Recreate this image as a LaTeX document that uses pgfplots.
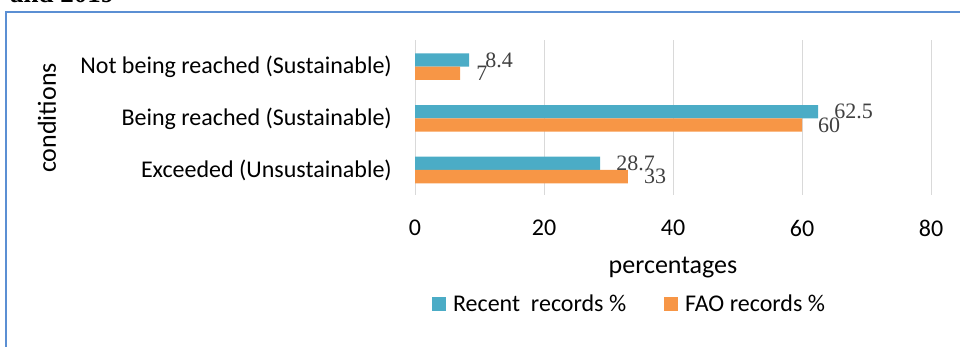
\documentclass[border=0pt]{standalone}
\usepackage{pgfplots}
\pgfplotsset{compat=1.18}
\usepackage{fontspec}
\setmainfont{Carlito}
\newfontfamily\tnr{Liberation Serif}
\definecolor{barblue}{HTML}{4BACC6}
\definecolor{barorange}{HTML}{F79646}
\definecolor{gridgray}{HTML}{D9D9D9}
\definecolor{boxblue}{HTML}{5B8FD3}
\definecolor{labgray}{HTML}{404040}
\begin{document}
\begin{tikzpicture}
\useasboundingbox (0,0) rectangle (960bp,347bp);
\begin{axis}[
  at={(415bp,152bp)}, anchor=south west,
  scale only axis, width=516bp, height=155bp,
  xbar, bar width=13.3bp,
  xmin=0, xmax=80, ymin=-0.484, ymax=2.516,
  xtick={0,20,40,60,80},
  ytick={0,1,2},
  yticklabels={Exceeded (Unsustainable), Being reached (Sustainable), Not being reached (Sustainable)},
  xmajorgrids, major grid style={gridgray, line width=1bp},
  axis line style={draw=none},
  major tick length=0pt,
  tick style={draw=none},
  /pgf/number format/assume math mode=true,
  tick label style={font=\fontsize{24bp}{28bp}\selectfont},
  xticklabel style={anchor=north, inner sep=0pt, yshift=-25bp},
  yticklabel style={anchor=east, inner sep=0pt, xshift=-23bp},
  nodes near coords,
  every node near coord/.append style={font=\tnr\fontsize{22bp}{26bp}\selectfont, text=labgray, inner sep=0pt, xshift=16bp, anchor=west},
  legend columns=2,
  legend cell align=left,
  legend image code/.code={\fill[#1] (0bp,-7bp) rectangle (14bp,7bp);},
  legend style={at={(0.033,-0.703)}, anchor=west, draw=none, fill=none, inner sep=0pt, outer sep=0pt,
    nodes={inner sep=0pt}, font=\fontsize{24bp}{28bp}\selectfont,
    /tikz/every odd column/.style={column sep=7bp},
    /tikz/every even column/.style={column sep=38bp}},
]
\addplot[fill=barblue, draw=none, bar shift=6.65bp] coordinates {(28.7,0) (62.5,1) (8.4,2)};
\addlegendentry{Recent\ \ records \%}
\addplot[fill=barorange, draw=none, bar shift=-6.65bp] coordinates {(33,0) (60,1) (7,2)};
\addlegendentry{FAO records \%}
\end{axis}
\node[rotate=90, font=\fontsize{26bp}{30bp}\selectfont] at (47bp,229bp) {conditions};
\node[anchor=base, font=\fontsize{26bp}{30bp}\selectfont] at (673bp,73bp) {percentages};
\draw[boxblue, line width=1.5bp] (6bp,-5bp) -- (6bp,335bp) -- (970bp,335bp);
\node[anchor=base west, font=\tnr\bfseries\fontsize{27bp}{31bp}\selectfont, inner sep=0pt] at (10bp,344bp) {and 2019};
\end{tikzpicture}
\end{document}
